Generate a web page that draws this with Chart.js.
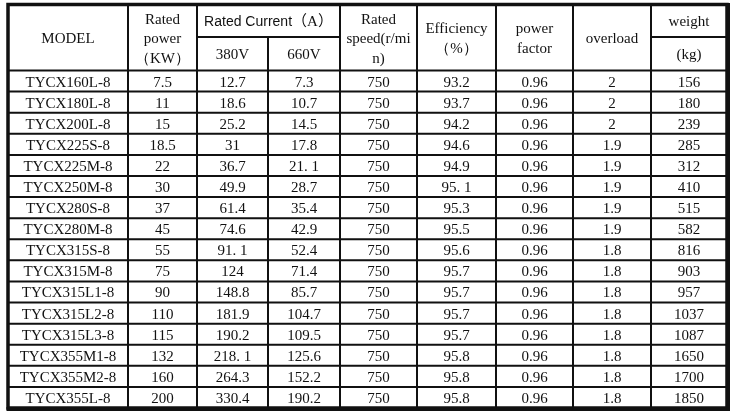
<!DOCTYPE html>
<html>
<head>
<meta charset="utf-8">
<script src="https://cdn.jsdelivr.net/npm/chart.js@4.4.1/dist/chart.umd.min.js"></script>
<style>
html,body{margin:0;padding:0;background:#fff;}
#wrap{width:734px;height:417px;position:relative;}
</style>
</head>
<body>
<div id="wrap"><canvas id="c"></canvas></div>
<script>
// ---- data ----
const models = ["TYCX160L-8","TYCX180L-8","TYCX200L-8","TYCX225S-8","TYCX225M-8","TYCX250M-8","TYCX280S-8","TYCX280M-8","TYCX315S-8","TYCX315M-8","TYCX315L1-8","TYCX315L2-8","TYCX315L3-8","TYCX355M1-8","TYCX355M2-8","TYCX355L-8"];
const ratedPower = ["7.5","11","15","18.5","22","30","37","45","55","75","90","110","115","132","160","200"];
const current380 = ["12.7","18.6","25.2","31","36.7","49.9","61.4","74.6","91. 1","124","148.8","181.9","190.2","218. 1","264.3","330.4"];
const current660 = ["7.3","10.7","14.5","17.8","21. 1","28.7","35.4","42.9","52.4","71.4","85.7","104.7","109.5","125.6","152.2","190.2"];
const ratedSpeed = ["750","750","750","750","750","750","750","750","750","750","750","750","750","750","750","750"];
const efficiency = ["93.2","93.7","94.2","94.6","94.9","95. 1","95.3","95.5","95.6","95.7","95.7","95.7","95.7","95.8","95.8","95.8"];
const powerFactor = ["0.96","0.96","0.96","0.96","0.96","0.96","0.96","0.96","0.96","0.96","0.96","0.96","0.96","0.96","0.96","0.96"];
const overload = ["2","2","2","1.9","1.9","1.9","1.9","1.9","1.8","1.8","1.8","1.8","1.8","1.8","1.8","1.8"];
const weight = ["156","180","239","285","312","410","515","582","816","903","957","1037","1087","1650","1700","1850"];

// header texts: [column span start, span end, lines, sub-row (0 = full height, 1 = top half, 2 = bottom half)]
const headerCells = [
  [0,1,["MODEL"],0],
  [1,2,["Rated","power","（KW）"],0],
  [2,3,["380V"],2],
  [3,4,["660V"],2],
  [4,5,["Rated","speed(r/mi","n)"],0],
  [5,6,["Efficiency","（%）"],0],
  [6,7,["power","factor"],0],
  [7,8,["overload"],0],
  [8,9,["weight"],1],
  [8,9,["(kg)"],2]
];
const currentTitle = ["Rated Current", "（", "A", "）"];

const columns = [models, ratedPower, current380, current660, ratedSpeed, efficiency, powerFactor, overload, weight];

// ---- layout ----
const colEdges = [0,120,189,260,332,409,488,565,643,719];
const HEADER = 3.13;   // header height in row units
const SUBLINE = -1.59; // split line inside header
const FONT = '15px "Liberation Serif", "Times New Roman", serif';
const SANS = '14px "Liberation Sans", Arial, sans-serif';
const CJK = '15px "Noto Sans CJK SC", sans-serif';
const LINE_GAP = 19.5;

const datasets = columns.map((vals, c) => ({
  label: 'col' + c,
  data: vals.map((v, i) => ({x: (colEdges[c] + colEdges[c+1]) / 2, y: i + 0.5})),
  pointRadius: 0,
  pointHoverRadius: 0,
  showLine: false
}));

const tablePlugin = {
  id: 'tablePlugin',
  afterDatasetsDraw(chart) {
    const ctx = chart.ctx;
    const xs = chart.scales.x, ys = chart.scales.y;
    const X = v => xs.getPixelForValue(v);
    const Y = v => ys.getPixelForValue(v);
    ctx.save();
    ctx.fillStyle = '#fff';
    ctx.fillRect(X(0), Y(-HEADER), X(719) - X(0), Y(16) - Y(-HEADER));
    // text
    ctx.fillStyle = '#111';
    ctx.font = FONT;
    ctx.textAlign = 'center';
    ctx.textBaseline = 'alphabetic';
    chart.data.datasets.forEach((ds, c) => {
      const meta = chart.getDatasetMeta(c);
      meta.data.forEach((pt, i) => {
        ctx.fillText(columns[c][i], pt.x, pt.y + 5.5);
      });
    });
    headerCells.forEach(([a, b, lines, sub]) => {
      let top = Y(-HEADER), bot = Y(0);
      if (sub === 1) bot = Y(SUBLINE);
      if (sub === 2) top = Y(SUBLINE);
      const cx = (X(colEdges[a]) + X(colEdges[b])) / 2;
      const cy = (top + bot) / 2;
      const n = lines.length;
      lines.forEach((t, k) => {
        const y = cy + (k - (n - 1) / 2) * LINE_GAP + 5.5;
        ctx.fillText(t, cx, y);
      });
    });
    // "Rated Current（A）" title: sans part + full-width brackets
    {
      const cx = (X(colEdges[2]) + X(colEdges[4])) / 2;
      const cy = (Y(-HEADER) + Y(SUBLINE)) / 2 + 5.5;
      const fonts = [SANS, CJK, FONT, CJK];
      const widths = currentTitle.map((t, k) => { ctx.font = fonts[k]; return ctx.measureText(t).width; });
      let x = cx - widths.reduce((s, w) => s + w, 0) / 2;
      ctx.textAlign = 'left';
      currentTitle.forEach((t, k) => {
        ctx.font = fonts[k];
        ctx.fillText(t, x, cy);
        x += widths[k];
      });
    }
    // lines
    ctx.strokeStyle = '#111';
    ctx.lineWidth = 2;
    ctx.beginPath();
    for (let r = 0; r < 16; r++) {
      ctx.moveTo(X(0), Y(r)); ctx.lineTo(X(719), Y(r));
    }
    ctx.moveTo(X(colEdges[2]), Y(SUBLINE)); ctx.lineTo(X(colEdges[4]), Y(SUBLINE));
    ctx.moveTo(X(colEdges[8]), Y(SUBLINE)); ctx.lineTo(X(colEdges[9]), Y(SUBLINE));
    for (let e = 1; e < colEdges.length - 1; e++) {
      const start = e === 3 ? SUBLINE : -HEADER;
      ctx.moveTo(X(colEdges[e]), Y(start)); ctx.lineTo(X(colEdges[e]), Y(16));
    }
    ctx.stroke();
    ctx.lineWidth = 3.5;
    ctx.strokeRect(X(0), Y(-HEADER), X(719) - X(0), Y(16) - Y(-HEADER));
    // heavier right / bottom edge
    ctx.lineWidth = 4;
    ctx.beginPath();
    ctx.moveTo(X(719) + 1, Y(-HEADER) - 1.5); ctx.lineTo(X(719) + 1, Y(16) + 1);
    ctx.lineTo(X(0) - 1.5, Y(16) + 1);
    ctx.stroke();
    ctx.restore();
  }
};

new Chart(document.getElementById('c'), {
  type: 'scatter',
  data: { datasets },
  options: {
    responsive: true,
    maintainAspectRatio: false,
    animation: false,
    devicePixelRatio: 1,
    layout: { padding: { left: 8, right: 7, top: 4.5, bottom: 9 } },
    plugins: { legend: { display: false }, tooltip: { enabled: false } },
    events: [],
    scales: {
      x: { type: 'linear', min: 0, max: 719, display: false },
      y: { type: 'linear', min: -HEADER, max: 16, reverse: true, display: false }
    }
  },
  plugins: [tablePlugin]
});
</script>
</body>
</html>
